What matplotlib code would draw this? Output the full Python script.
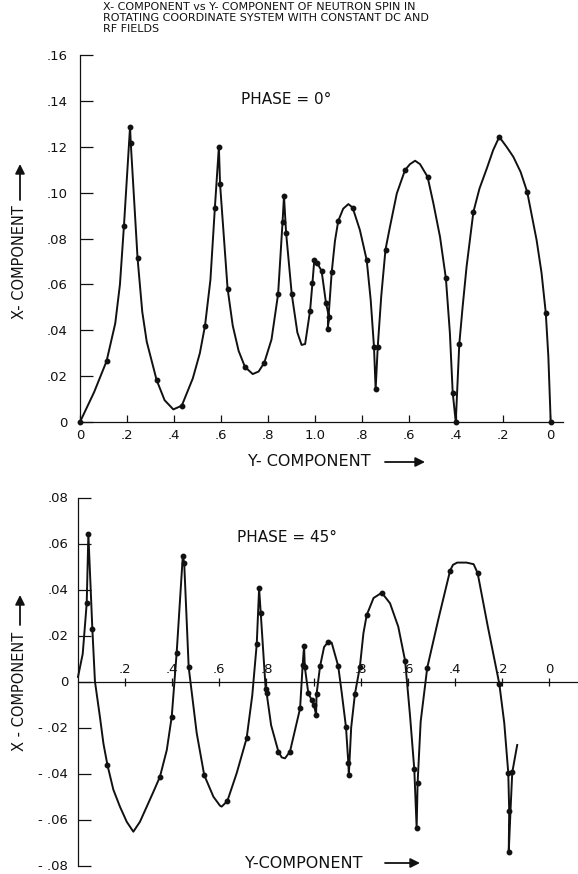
import matplotlib
matplotlib.use("Agg")
import matplotlib.pyplot as plt
from matplotlib.patches import FancyArrowPatch

# ---------------- data ----------------
# Horizontal coordinate: path length along the folded Y axis
# (0 -> 1.0 going out, then 1.0 -> 0 coming back, drawn as 0..2)
top_curve_u = [0.000, 0.060, 0.113, 0.150, 0.170, 0.187, 0.213, 0.216, 0.245, 0.265,
               0.284, 0.326, 0.360, 0.397, 0.433, 0.480, 0.510, 0.532, 0.555, 0.574,
               0.591, 0.596, 0.628, 0.650, 0.675, 0.702, 0.735, 0.760, 0.784, 0.815,
               0.843, 0.862, 0.868, 0.877, 0.901, 0.925, 0.943, 0.958, 0.979, 0.989,
               0.997, 1.009, 1.028, 1.047, 1.060, 1.054, 1.071, 1.085, 1.099, 1.120,
               1.142, 1.160, 1.191, 1.220, 1.237, 1.251, 1.258, 1.267, 1.282, 1.300,
               1.319, 1.348, 1.383, 1.404, 1.426, 1.447, 1.479, 1.504, 1.532, 1.557,
               1.574, 1.586, 1.599, 1.614, 1.628, 1.645, 1.674, 1.700, 1.731, 1.758,
               1.784, 1.815, 1.844, 1.875, 1.903, 1.943, 1.964, 1.982, 1.993, 2.003]
top_curve_x = [0.0000, 0.0130, 0.0265, 0.0430, 0.0600, 0.0855, 0.1287, 0.1217, 0.0713, 0.0480,
               0.0350, 0.0183, 0.0095, 0.0055, 0.0071, 0.0190, 0.0300, 0.0420, 0.0620, 0.0935,
               0.1200, 0.1037, 0.0582, 0.0420, 0.0310, 0.0240, 0.0209, 0.0220, 0.0258, 0.0360,
               0.0558, 0.0873, 0.0985, 0.0825, 0.0558, 0.0390, 0.0336, 0.0340, 0.0485, 0.0604,
               0.0706, 0.0693, 0.0659, 0.0517, 0.0456, 0.0407, 0.0652, 0.0790, 0.0877, 0.0930,
               0.0950, 0.0935, 0.0837, 0.0706, 0.0532, 0.0328, 0.0142, 0.0328, 0.0550, 0.0752,
               0.0851, 0.0996, 0.1098, 0.1124, 0.1139, 0.1124, 0.1069, 0.0952, 0.0807, 0.0626,
               0.0388, 0.0128, 0.0000, 0.0340, 0.0500, 0.0677, 0.0916, 0.1018, 0.1105, 0.1185,
               0.1243, 0.1200, 0.1156, 0.1090, 0.1003, 0.0793, 0.0650, 0.0476, 0.0285, 0.0000]
top_dot_u = [0.000, 0.113, 0.187, 0.213, 0.216, 0.245, 0.326, 0.433, 0.532, 0.574,
             0.591, 0.596, 0.628, 0.702, 0.784, 0.843, 0.862, 0.868, 0.877, 0.901,
             0.979, 0.989, 0.997, 1.009, 1.028, 1.047, 1.060, 1.054, 1.071, 1.099,
             1.160, 1.220, 1.251, 1.258, 1.267, 1.300, 1.383, 1.479, 1.557, 1.586,
             1.599, 1.614, 1.674, 1.784, 1.903, 1.982, 2.003]
top_dot_x = [0.0000, 0.0265, 0.0855, 0.1287, 0.1217, 0.0713, 0.0183, 0.0071, 0.0420, 0.0935,
             0.1200, 0.1037, 0.0582, 0.0240, 0.0258, 0.0558, 0.0873, 0.0985, 0.0825, 0.0558,
             0.0485, 0.0604, 0.0706, 0.0693, 0.0659, 0.0517, 0.0456, 0.0407, 0.0652, 0.0877,
             0.0935, 0.0706, 0.0328, 0.0142, 0.0328, 0.0752, 0.1098, 0.1069, 0.0626, 0.0128,
             0.0000, 0.0340, 0.0916, 0.1243, 0.1003, 0.0476, 0.0000]

bot_curve_u = [0.000, 0.020, 0.037, 0.044, 0.061, 0.072, 0.093, 0.108, 0.125, 0.150,
               0.178, 0.207, 0.235, 0.263, 0.292, 0.320, 0.348, 0.377, 0.398, 0.419,
               0.445, 0.451, 0.470, 0.504, 0.536, 0.575, 0.603, 0.610, 0.634, 0.674,
               0.716, 0.740, 0.759, 0.769, 0.776, 0.797, 0.801, 0.820, 0.851, 0.865,
               0.879, 0.900, 0.943, 0.954, 0.960, 0.963, 0.978, 0.992, 1.002, 1.011,
               1.013, 1.028, 1.045, 1.063, 1.077, 1.105, 1.120, 1.138, 1.148, 1.150,
               1.160, 1.176, 1.197, 1.212, 1.226, 1.255, 1.290, 1.325, 1.360, 1.389,
               1.410, 1.428, 1.438, 1.442, 1.455, 1.483, 1.530, 1.580, 1.592, 1.610,
               1.650, 1.680, 1.697, 1.740, 1.789, 1.810, 1.827, 1.831, 1.829, 1.837,
               1.844, 1.865]
bot_curve_x = [0.0020, 0.0120, 0.0340, 0.0641, 0.0227, 0.0000, -0.0153, -0.0270, -0.0363, -0.0470,
               -0.0544, -0.0610, -0.0653, -0.0610, -0.0544, -0.0480, -0.0414, -0.0298, -0.0153, 0.0125,
               0.0546, 0.0514, 0.0062, -0.0224, -0.0407, -0.0501, -0.0540, -0.0544, -0.0520, -0.0398,
               -0.0247, -0.0060, 0.0163, 0.0405, 0.0297, -0.0034, -0.0051, -0.0190, -0.0305, -0.0330,
               -0.0334, -0.0305, -0.0117, 0.0072, 0.0154, 0.0064, -0.0051, -0.0080, -0.0102, -0.0146,
               -0.0054, 0.0067, 0.0150, 0.0173, 0.0169, 0.0067, -0.0050, -0.0199, -0.0356, -0.0407,
               -0.0200, -0.0054, 0.0064, 0.0210, 0.0289, 0.0363, 0.0386, 0.0340, 0.0238, 0.0090,
               -0.0150, -0.0382, -0.0638, -0.0443, -0.0175, 0.0060, 0.0270, 0.0482, 0.0507, 0.0517,
               0.0517, 0.0510, 0.0471, 0.0240, -0.0010, -0.0180, -0.0397, -0.0562, -0.0743, -0.0550,
               -0.0395, -0.0276]
bot_dot_u = [0.037, 0.044, 0.061, 0.125, 0.348, 0.398, 0.419, 0.445, 0.451, 0.470,
             0.536, 0.634, 0.716, 0.759, 0.769, 0.776, 0.797, 0.801, 0.851, 0.900,
             0.943, 0.954, 0.960, 0.963, 0.978, 0.992, 1.002, 1.011, 1.013, 1.028,
             1.063, 1.105, 1.138, 1.148, 1.150, 1.176, 1.197, 1.226, 1.290, 1.389,
             1.428, 1.438, 1.442, 1.483, 1.580, 1.697, 1.789, 1.827, 1.831, 1.829, 1.844]
bot_dot_x = [0.0340, 0.0641, 0.0227, -0.0363, -0.0414, -0.0153, 0.0125, 0.0546, 0.0514, 0.0062,
             -0.0407, -0.0520, -0.0247, 0.0163, 0.0405, 0.0297, -0.0034, -0.0051, -0.0305, -0.0305,
             -0.0117, 0.0072, 0.0154, 0.0064, -0.0051, -0.0080, -0.0102, -0.0146, -0.0054, 0.0067,
             0.0173, 0.0067, -0.0199, -0.0356, -0.0407, -0.0054, 0.0064, 0.0289, 0.0386, 0.0090,
             -0.0382, -0.0638, -0.0443, 0.0060, 0.0482, 0.0471, -0.0010, -0.0397, -0.0562, -0.0743, -0.0395]

top_xtick_labels = ["0", ".2", ".4", ".6", ".8", "1.0", ".8", ".6", ".4", ".2", "0"]
top_ytick_labels = ["0", ".02", ".04", ".06", ".08", ".10", ".12", ".14", ".16"]
bot_xtick_labels = [".2", ".4", ".6", ".8", "", ".8", ".6", ".4", ".2", "0"]
bot_ytick_labels = ["- .08", "- .06", "- .04", "- .02", "0", ".02", ".04", ".06", ".08"]

title_text = ("X- COMPONENT vs Y- COMPONENT OF NEUTRON SPIN IN\n"
              "ROTATING COORDINATE SYSTEM WITH CONSTANT DC AND\n"
              "RF FIELDS")

# ---------------- figure ----------------
W, H = 578, 874
fig = plt.figure(figsize=(W / 100, H / 100), dpi=100)
fig.patch.set_facecolor("white")


def fx(px):
    return px / W


def fy(py):
    return 1 - py / H


ink = "#111111"

# ---- top panel ----
ax1 = fig.add_axes([fx(80), fy(422), 483 / W, 367 / H])
ax1.plot(top_curve_u, top_curve_x, color=ink, lw=1.4, clip_on=False,
         solid_joinstyle="round")
ax1.plot(top_dot_u, top_dot_x, "o", color=ink, ms=3.2, clip_on=False)
ax1.set_xlim(0, 483 / 235)
ax1.set_ylim(0, 0.16)
for s in ("top", "right"):
    ax1.spines[s].set_visible(False)
for s in ("left", "bottom"):
    ax1.spines[s].set_linewidth(0.9)
    ax1.spines[s].set_color(ink)
ax1.set_xticks([0.2 * i for i in range(len(top_xtick_labels))])
ax1.set_xticklabels(top_xtick_labels)
ax1.set_yticks([0.02 * i for i in range(len(top_ytick_labels))])
ax1.set_yticklabels(top_ytick_labels)
ax1.tick_params(axis="y", direction="in", length=9, width=0.9, pad=9,
                labelsize=9.5, colors=ink)
ax1.tick_params(axis="x", direction="in", length=5, width=0.9, pad=5,
                labelsize=9.5, colors=ink)

# ---- bottom panel ----
ax2 = fig.add_axes([fx(78), fy(865.5), 500 / W, 368 / H])
ax2.plot(bot_curve_u, bot_curve_x, color=ink, lw=1.4, clip_on=False,
         solid_joinstyle="round")
ax2.plot(bot_dot_u, bot_dot_x, "o", color=ink, ms=3.2, clip_on=False)
ax2.set_xlim(0, 500 / 235.5)
ax2.set_ylim(-0.08, 0.08)
ax2.spines["right"].set_visible(False)
ax2.spines["bottom"].set_visible(False)
ax2.spines["top"].set_position(("data", 0))
for s in ("left", "top"):
    ax2.spines[s].set_linewidth(0.9)
    ax2.spines[s].set_color(ink)
ax2.xaxis.set_ticks_position("top")
ax2.set_xticks([0.2 * (i + 1) for i in range(len(bot_xtick_labels))])
ax2.set_xticklabels(bot_xtick_labels)
ax2.set_yticks([-0.08 + 0.02 * i for i in range(len(bot_ytick_labels))])
ax2.set_yticklabels(bot_ytick_labels)
ax2.tick_params(axis="y", direction="in", length=9, width=0.9, pad=7,
                labelsize=9.5, colors=ink)
ax2.tick_params(axis="x", direction="inout", length=6, width=0.9, pad=1,
                labelsize=9.5, colors=ink, top=True, bottom=False,
                labeltop=True, labelbottom=False)

# ---- texts ----
fig.text(fx(103), fy(2), title_text, ha="left", va="top", fontsize=8,
         linespacing=1.15, color=ink)
fig.text(fx(241), fy(100), "PHASE = 0°", ha="left", va="center", fontsize=11,
         color=ink)
fig.text(fx(237), fy(537), "PHASE = 45°", ha="left", va="center", fontsize=11,
         color=ink)

# axis labels with arrows
fig.text(fx(20), fy(262), "X- COMPONENT", rotation=90, ha="center", va="center",
         fontsize=10.5, color=ink)
fig.text(fx(248), fy(462), "Y- COMPONENT", ha="left", va="center", fontsize=11.5,
         color=ink)
fig.text(fx(20), fy(691), "X - COMPONENT", rotation=90, ha="center", va="center",
         fontsize=10.5, color=ink)
fig.text(fx(245), fy(863), "Y-COMPONENT", ha="left", va="center", fontsize=11.5,
         color=ink)


def arrow(p0, p1):
    a = FancyArrowPatch((fx(p0[0]), fy(p0[1])), (fx(p1[0]), fy(p1[1])),
                        transform=fig.transFigure, arrowstyle="-|>",
                        mutation_scale=14, lw=1.3, color=ink,
                        shrinkA=0, shrinkB=0)
    fig.add_artist(a)


arrow((20, 200), (20, 164))
arrow((385, 462), (425, 462))
arrow((20, 625), (20, 595))
arrow((385, 863), (420, 863))

fig.savefig("out.png", dpi=100)
